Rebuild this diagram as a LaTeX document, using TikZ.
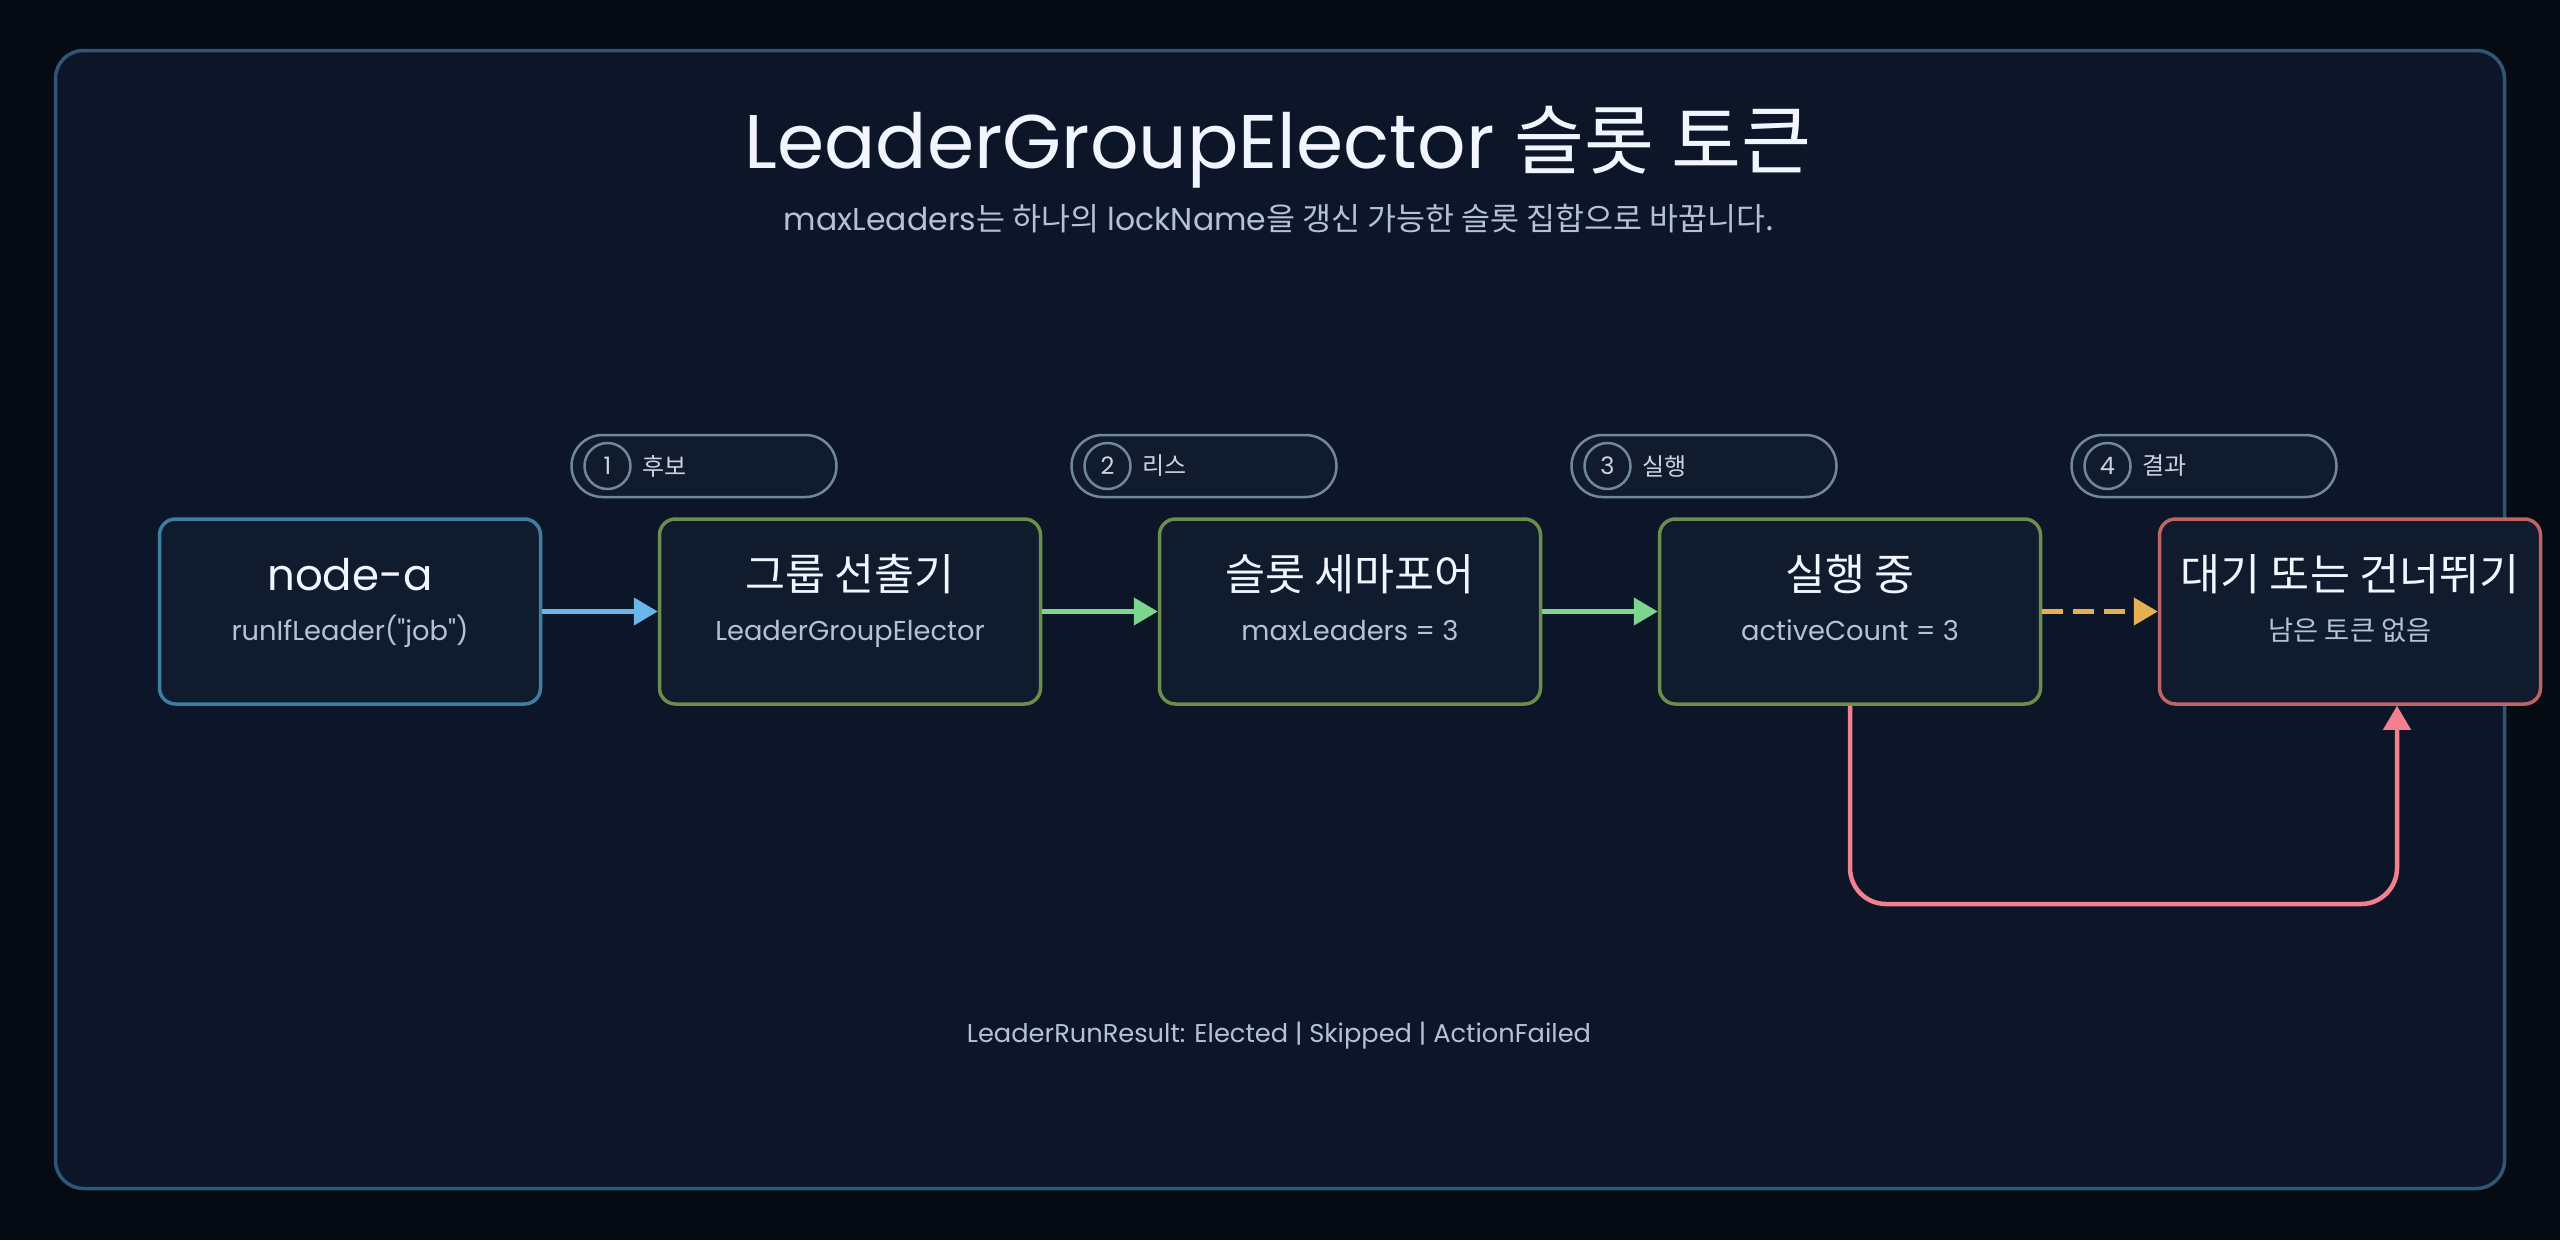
\documentclass[tikz,border=0pt]{standalone}
\usepackage{fontspec}
\setmainfont{Poppins}[Ligatures=TeXOff]
\newfontfamily\krf{Noto Sans CJK KR}[Scale=1.0]
\newcommand\kt[1]{{\krf #1}}
\usetikzlibrary{arrows.meta}
\definecolor{bgout}{HTML}{050A13}
\definecolor{panelfill}{HTML}{0D1628}
\definecolor{panelline}{HTML}{2F5577}
\definecolor{boxfill}{HTML}{111B2E}
\definecolor{blueline}{HTML}{3D7FA3}
\definecolor{greenline}{HTML}{6B8E4C}
\definecolor{redline}{HTML}{BD6466}
\definecolor{pillline}{HTML}{71889A}
\definecolor{arrblue}{HTML}{6AB6EA}
\definecolor{arrgreen}{HTML}{7CD68F}
\definecolor{arrorange}{HTML}{E6AF50}
\definecolor{arrpink}{HTML}{F2808F}
\definecolor{txtmain}{HTML}{F1F5FF}
\definecolor{txtsub}{HTML}{B4C2D6}
\definecolor{txtpill}{HTML}{CBD5E1}
\begin{document}
\begin{tikzpicture}[x=1pt,y=-1pt,
  box/.style={draw, line width=3.5pt, fill=boxfill, rounded corners=16pt,
    minimum width=381pt, minimum height=185pt, inner sep=0pt},
  boxtitle/.style={anchor=base, text=txtmain, font=\fontsize{43.5}{48}\selectfont, inner sep=0pt},
  boxsub/.style={anchor=base, text=txtsub, font=\fontsize{27.3}{30}\selectfont, inner sep=0pt},
  pill/.style={draw=pillline, line width=2.5pt, fill=boxfill, rounded corners=31pt,
    minimum width=265pt, minimum height=62pt, inner sep=0pt},
  pillnum/.style={draw=pillline, line width=2.5pt, circle, minimum size=46pt, inner sep=0pt,
    text=txtpill, font=\fontsize{24}{27}\selectfont},
  pilltext/.style={anchor=west, text=txtpill, font=\fontsize{24}{27}\selectfont, inner sep=0pt},
  conn/.style={line width=4.5pt, -{Triangle[length=24pt,width=27pt]}},
]
\fill[bgout] (0,0) rectangle (2560,1240);
\useasboundingbox (0,0) rectangle (2560,1240);
\draw[panelline, line width=3.5pt, fill=panelfill, rounded corners=28pt] (55.5,50.5) rectangle (2504.5,1188.5);

\node[anchor=base, text=txtmain, font=\fontsize{76}{82}\selectfont, inner sep=0pt] (title) at (1278,168)
  {LeaderGroupElector \kt{슬롯 토큰}};
\node[anchor=base, text=txtsub, font=\fontsize{31.5}{34}\selectfont, inner sep=0pt] (subtitle) at (1279,230)
  {maxLeaders\kt{는 하나의} lockName\kt{을 갱신 가능한 슬롯 집합으로 바꿉니다.}};

% boxes
\node[box, draw=blueline] (b1) at (350,611.5) {};
\node[box, draw=greenline] (b2) at (850,611.5) {};
\node[box, draw=greenline] (b3) at (1350,611.5) {};
\node[box, draw=greenline] (b4) at (1850,611.5) {};
\node[box, draw=redline] (b5) at (2350,611.5) {};

\node[boxtitle] (b1t) at ([yshift=21pt]b1.center) {node-a};
\node[boxsub] (b1s) at ([yshift=-28.5pt]b1.center) {runIfLeader("job")};
\node[boxtitle] (b2t) at ([yshift=21pt]b2.center) {\kt{그룹 선출기}};
\node[boxsub] (b2s) at ([yshift=-28.5pt]b2.center) {LeaderGroupElector};
\node[boxtitle] (b3t) at ([yshift=21pt]b3.center) {\kt{슬롯 세마포어}};
\node[boxsub] (b3s) at ([yshift=-28.5pt]b3.center) {maxLeaders = 3};
\node[boxtitle] (b4t) at ([yshift=21pt]b4.center) {\kt{실행 중}};
\node[boxsub] (b4s) at ([yshift=-28.5pt]b4.center) {activeCount = 3};
\node[boxtitle] (b5t) at ([yshift=21pt]b5.center) {\kt{대기 또는 건너뛰기}};
\node[boxsub] (b5s) at ([yshift=-28.5pt]b5.center) {\kt{남은 토큰 없음}};

% pills
\foreach \i/\x/\lab in {1/704/후보, 2/1204/리스, 3/1704/실행, 4/2204/결과}{
  \node[pill] (p\i) at (\x,466) {};
  \node[pillnum] (p\i n) at ([xshift=-96.5pt]p\i.center) {\i};
  \node[pilltext] (p\i t) at ([xshift=72pt]p\i.west) {\kt{\lab}};
}

% connectors
\draw[conn, arrblue] (b1.east) -- (b2.west);
\draw[conn, arrgreen] (b2.east) -- (b3.west);
\draw[conn, arrgreen] (b3.east) -- (b4.west);
\draw[conn, arrorange, dash pattern=on 21pt off 10pt] (b4.east) -- (b5.west);
\coordinate (loopend) at ([xshift=47pt]b5.south);
\draw[conn, arrpink, rounded corners=36pt] (b4.south) -- (b4.south |- 0,904) -- (loopend |- 0,904) -- (loopend);

\node[anchor=base, text=txtsub, font=\fontsize{25.7}{29}\selectfont, inner sep=0pt] (footer) at (1279,1042)
  {LeaderRunResult: Elected | Skipped | ActionFailed};
\end{tikzpicture}
\end{document}
